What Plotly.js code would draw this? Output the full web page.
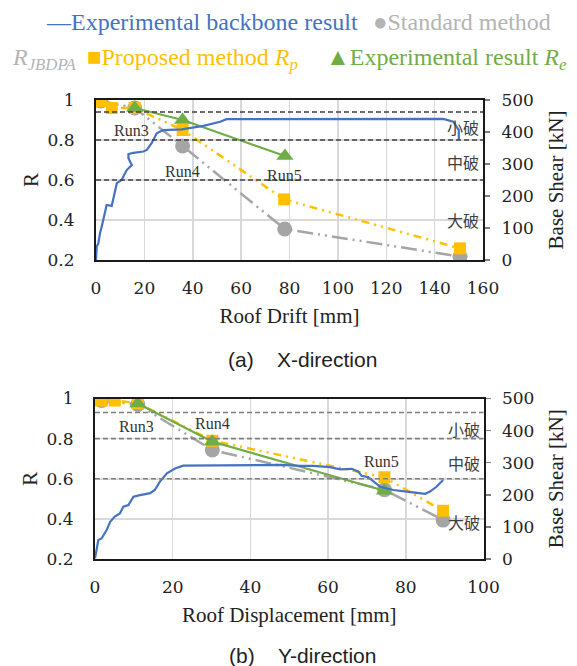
<!DOCTYPE html>
<html>
<head>
<meta charset="utf-8">
<script src="https://cdn.plot.ly/plotly-3.0.1.min.js"></script>
<style>html,body{margin:0;padding:0;background:#fff;}#chart{width:577px;height:666px;}</style>
</head>
<body>
<div id="chart"></div>
<script>
// ---------- X-direction (top) ----------
const backboneX_drift = [0,0.3,0.96,1.65,3.0,4.1,4.4,6.5,6.9,7.9,8.6,10.6,12.7,14.8,13.4,13.4,15.4,19.6,21,23,25.1,27.8,35.4,44.4,51.3,54,84.3,143.6,147.7,150,150];
const backboneX_shear = [0,42,52,83,125,156,172,169,182,219,240,250,281,297,318,331,335,339,344,365,396,406,408,419,432,440,441,441,432,406,375];
const standardX_drift = [0,2,16,35.8,78,150.5];
const standardX_R     = [1.0,0.995,0.96,0.77,0.355,0.217];
const proposedX_drift = [0,2,6.5,16,35.8,77.8,150.5];
const proposedX_R     = [1.0,0.995,0.96,0.96,0.85,0.503,0.258];
const experX_drift    = [16,35.8,78.1];
const experX_R        = [0.96,0.90,0.72];
const runX_labels = ["Run3","Run4","Run5"];
const runX_x = [14.7,35.8,78];
const runX_y = [0.846,0.64,0.62];
const damageX_levels = [0.94,0.8,0.6];

// ---------- Y-direction (bottom) ----------
const backboneY_disp  = [0,0.43,0.86,1.7,3,3.9,5.1,6.4,7.3,8.6,9.9,11.6,14.2,15.4,16.7,18.5,20.6,22.7,27,40,48,52.8,56.2,60.5,63.1,66.1,67.8,68.6,70.3,73.4,76.8,80.2,85,86.2,87.9,89.6];
const backboneY_shear = [2,33,59,64,90,116,132,142,163,168,194,199,205,215,241,267,282,291,291,291,293,290,290,286,279,281,272,259,255,225,215,210,203,210,225,246];
const standardY_disp  = [0,1.7,11,30.2,74.5,89.6];
const standardY_R     = [1.0,0.99,0.97,0.743,0.545,0.394];
const proposedY_disp  = [0,1.7,5.1,11,30.2,74.5,89.6];
const proposedY_R     = [1.0,0.99,0.99,0.976,0.79,0.607,0.44];
const experY_disp     = [11,30.2,74.5];
const experY_R        = [0.975,0.785,0.54];
const runY_labels = ["Run3","Run4","Run5"];
const runY_x = [10.7,30.2,73.8];
const runY_y = [0.86,0.876,0.685];
const damageY_levels = [0.93,0.8,0.6];

// ---------- shared labels ----------
const damageNames = ["小破","中破","大破"];
const damageX_labelY = [0.867,0.69,0.40];
const damageY_labelY = [0.846,0.677,0.386];
const rTicks = [0.2,0.4,0.6,0.8,1];
const shearTicks = [0,100,200,300,400,500];

const BLUE='#4472C4', GRAY='#A5A5A5', YEL='#FFC000', GRN='#70AD47';
const TICKF='DejaVu Serif';
const SERIF='Liberation Serif';

function seriesSet(xa, ya, ya2, bx, bs, sx, sr, px, pr, ex, er){
  return [
    {x:sx, y:sr, xaxis:xa, yaxis:ya, mode:'lines+markers', type:'scatter',
     line:{color:GRAY, width:2.5, dash:'16px,5px,2px,5px,2px,5px'},
     marker:{symbol:'circle', size:15, color:GRAY}, showlegend:false, hoverinfo:'skip'},
    {x:px, y:pr, xaxis:xa, yaxis:ya, mode:'lines+markers', type:'scatter',
     line:{color:YEL, width:2.5, dash:'8px,5px,2px,5px,2px,5px'},
     marker:{symbol:'square', size:12, color:YEL}, showlegend:false, hoverinfo:'skip'},
    {x:ex, y:er, xaxis:xa, yaxis:ya, mode:'lines+markers', type:'scatter',
     line:{color:GRN, width:2.2},
     marker:{symbol:'triangle-up', size:15, color:GRN}, showlegend:false, hoverinfo:'skip'},
    {x:bx, y:bs, xaxis:xa, yaxis:ya2, mode:'lines', type:'scatter',
     line:{color:BLUE, width:2.2}, showlegend:false, hoverinfo:'skip'}
  ];
}

const data = [].concat(
  seriesSet('x','y','y2', backboneX_drift, backboneX_shear, standardX_drift, standardX_R, proposedX_drift, proposedX_R, experX_drift, experX_R),
  seriesSet('x2','y3','y4', backboneY_disp, backboneY_shear, standardY_disp, standardY_R, proposedY_disp, proposedY_R, experY_disp, experY_R)
);

const W=577, H=666;
const px = v => v/W, py = v => 1 - v/H;

function xAxis(range, dtick, domain, anchor, title){
  return {range:range, dtick:dtick, domain:domain, anchor:anchor,
    showline:true, mirror:true, linecolor:'#1a1a1a', linewidth:2,
    showgrid:true, gridcolor:'#d9d9d9', gridwidth:1.5, zeroline:false,
    ticks:'', ticklabelstandoff:12,
    tickfont:{family:TICKF, size:17, color:'#222'},
    title:{text:title, font:{family:SERIF, size:21, color:'#222'}, standoff:11}};
}
function rAxis(domain, anchor){
  return {range:[0.2,1], tickvals:rTicks, domain:domain, anchor:anchor,
    showline:true, linecolor:'#1a1a1a', linewidth:2,
    showgrid:true, gridcolor:'#d9d9d9', gridwidth:1.5, zeroline:false,
    ticks:'', ticklabelstandoff:16,
    tickfont:{family:TICKF, size:17, color:'#222'},
    title:{text:'R', font:{family:SERIF, size:21, color:'#222'}, standoff:3}};
}
function sAxis(over, anchor){
  return {range:[0,500], tickvals:shearTicks, overlaying:over, side:'right', anchor:anchor,
    showline:true, linecolor:'#1a1a1a', linewidth:2, showgrid:false, zeroline:false,
    ticks:'outside', ticklen:5, tickcolor:'#7f7f7f', tickwidth:1.5, ticklabelstandoff:8,
    tickfont:{family:TICKF, size:17, color:'#222'},
    title:{text:'Base Shear [kN]', font:{family:SERIF, size:21, color:'#222'}, standoff:15}};
}

const topX=[px(96),px(483)], topY=[py(260),py(100)];
const botX=[px(95),px(483.5)], botY=[py(559),py(398.5)];

const shapes=[];
damageX_levels.forEach(v=>shapes.push({type:'line', xref:'x domain', yref:'y', x0:0, x1:1, y0:v, y1:v,
  line:{color:'#404040', width:1.3, dash:'5px,3px'}}));
damageY_levels.forEach(v=>shapes.push({type:'line', xref:'x2 domain', yref:'y3', x0:0, x1:1, y0:v, y1:v,
  line:{color:'#7f7f7f', width:1.6, dash:'5px,3px'}}));

const ann=[];
runX_labels.forEach((t,i)=>ann.push({text:t, x:runX_x[i], y:runX_y[i], xref:'x', yref:'y', showarrow:false,
  yanchor:'middle', font:{family:SERIF, size:16, color:'#333'}}));
runY_labels.forEach((t,i)=>ann.push({text:t, x:runY_x[i], y:runY_y[i], xref:'x2', yref:'y3', showarrow:false,
  yanchor:'middle', font:{family:SERIF, size:16, color:'#333'}}));
const CJK='Noto Sans CJK JP';
damageNames.forEach((t,i)=>{
  ann.push({text:t, x:0.995, y:damageX_labelY[i], xref:'x domain', yref:'y', xanchor:'right', yanchor:'middle', showarrow:false,
    font:{family:CJK, size:16, color:'#404040'}});
  ann.push({text:t, x:0.995, y:damageY_labelY[i], xref:'x2 domain', yref:'y3', xanchor:'right', yanchor:'middle', showarrow:false,
    font:{family:CJK, size:16, color:'#404040'}});
});
// captions
const NB='\u00A0';
ann.push({text:'(a)'+NB+NB+NB+NB+'X-direction', x:px(302.5), y:py(359), xref:'paper', yref:'paper', showarrow:false,
  xanchor:'center', yanchor:'middle', font:{family:'Liberation Sans', size:21, color:'#222'}});
ann.push({text:'(b)'+NB+NB+NB+NB+'Y-direction', x:px(302.5), y:py(655), xref:'paper', yref:'paper', showarrow:false,
  xanchor:'center', yanchor:'middle', font:{family:'Liberation Sans', size:21, color:'#222'}});
// legend (drawn as text)
const LF = s => ({family:SERIF, size:24, color:s});
function leg(text, x, y, color){
  ann.push({text:text, x:px(x), y:py(y), xanchor:'left', yanchor:'middle', xref:'paper', yref:'paper', showarrow:false, font:LF(color)});
}
leg('—Experimental backbone result', 44, 22, BLUE);
leg('●Standard method', 371, 22, '#b4b4b4');
leg('<i>R</i><sub><i>JBDPA</i></sub>', 10, 59, '#b4b4b4');
leg('■Proposed method <i>R</i><sub><i>p</i></sub>', 85, 59, YEL);
leg('▲Experimental result <i>R</i><sub><i>e</i></sub>', 324, 59, GRN);

const layout = {
  width:W, height:H, margin:{l:0,r:0,t:0,b:0}, paper_bgcolor:'#fff', plot_bgcolor:'#fff',
  showlegend:false,
  xaxis: xAxis([0,160],20,topX,'y','Roof Drift [mm]'),
  yaxis: rAxis(topY,'x'),
  yaxis2: sAxis('y','x'),
  xaxis2: xAxis([0,100],20,botX,'y3','Roof Displacement [mm]'),
  yaxis3: rAxis(botY,'x2'),
  yaxis4: sAxis('y3','x2'),
  shapes:shapes, annotations:ann
};
Plotly.newPlot('chart', data, layout, {staticPlot:true, displayModeBar:false});
</script>
</body>
</html>
